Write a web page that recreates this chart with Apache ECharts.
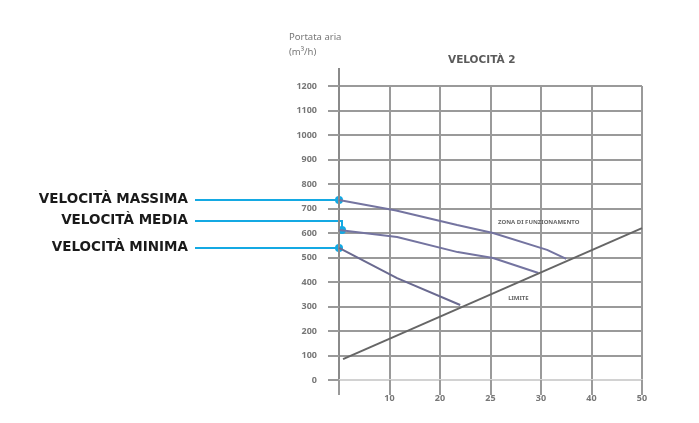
<!DOCTYPE html>
<html>
<head>
<meta charset="utf-8">
<script src="https://cdn.jsdelivr.net/npm/echarts@6/dist/echarts.min.js"></script>
<style>
  html, body { margin: 0; padding: 0; background: #fff; }
  #chart { width: 699px; height: 423px; }
</style>
</head>
<body>
<div id="chart"></div>
<script>
// asse x (velocità aria) e valori
const xCategories = ['', '10', '20', '25', '30', '40', '50'];
const yTicks = [0, 100, 200, 300, 400, 500, 600, 700, 800, 900, 1000, 1100, 1200];

// punti [posizione sull'asse x, portata m3/h]
const velMassima = [[0, 735], [1.13, 692], [2.34, 633], [3.05, 600], [4.12, 531], [4.5, 494]];
const velMedia = [[0, 612], [1.15, 584], [2.35, 522], [3.05, 498], [3.95, 437]];
const velMinima = [[0, 539], [1.15, 416], [2.4, 306]];
const limite = [[0.08, 85], [6, 620]];

const calloutLabels = ['VELOCITÀ MASSIMA', 'VELOCITÀ MEDIA', 'VELOCITÀ MINIMA'];

const gridGray = '#9a9a9a';
const lineCol = '#7474a0';
const cyan = '#14a9e3';

let chart = echarts.init(document.getElementById('chart'));

chart.setOption({
  animation: false,
  backgroundColor: '#fff',
  grid: { left: 339, right: 57, top: 86, bottom: 43 },
  xAxis: [
    {
      type: 'category',
      data: xCategories,
      boundaryGap: false,
      axisLine: { show: true, lineStyle: { color: '#d2d2d2', width: 2 } },
      axisTick: { show: true, length: 15, lineStyle: { color: gridGray, width: 2 } },
      axisLabel: { fontSize: 9, color: '#777', margin: 14, fontWeight: 'bold', fontFamily: 'Noto Sans' },
      splitLine: { show: true, lineStyle: { color: gridGray, width: 2 } }
    },
    { type: 'value', min: 0, max: 6, show: false }
  ],
  yAxis: {
    type: 'value',
    min: 0,
    max: 1200,
    interval: 100,
    axisLine: { show: true, onZero: false, lineStyle: { color: '#8a8a8a', width: 2 } },
    axisTick: { show: true, length: 11, lineStyle: { color: gridGray, width: 2 } },
    axisLabel: { fontSize: 9, color: '#777', margin: 22, fontWeight: 'bold', fontFamily: 'Noto Sans',
      formatter: v => yTicks.indexOf(v) >= 0 ? String(v) : '' },
    splitLine: { show: true, lineStyle: { color: gridGray, width: 2 } }
  },
  title: {
    text: 'VELOCITÀ 2',
    left: 443, top: 50,
    textStyle: { fontSize: 10.5, fontWeight: 'bold', color: '#5a5a5a', fontFamily: 'DejaVu Sans' }
  },
  series: [
    { name: 'massima', type: 'line', xAxisIndex: 1, data: velMassima, symbol: 'none',
      lineStyle: { color: lineCol, width: 2 } },
    { name: 'media', type: 'line', xAxisIndex: 1, data: velMedia, symbol: 'none',
      lineStyle: { color: lineCol, width: 2 } },
    { name: 'minima', type: 'line', xAxisIndex: 1, data: velMinima, symbol: 'none',
      lineStyle: { color: '#6a6a90', width: 2 } },
    { name: 'limite', type: 'line', xAxisIndex: 1, data: limite, symbol: 'none',
      lineStyle: { color: '#666', width: 2 } }
  ]
});

// richiami a sinistra, agganciati al primo punto di ogni curva
const firsts = [velMassima[0], velMedia[0], velMinima[0]];
const pts = firsts.map(p => chart.convertToPixel({ xAxisIndex: 1, yAxisIndex: 0 }, p));
const textY = [pts[0][1], (pts[0][1] + pts[1][1]) / 2 + 6, pts[2][1]];
let graphics = [];
calloutLabels.forEach((t, i) => {
  graphics.push({
    type: 'text', x: 188, y: textY[i],
    style: { text: t, fill: '#1a1a1a', font: 'bold 13.5px "DejaVu Sans"', align: 'right', verticalAlign: 'middle' }
  });
  let px = pts[i][0] + (i === 1 ? 3 : 0);
  let shape = i === 1
    ? { points: [[195, textY[i]], [px, textY[i]], [px, pts[i][1]]] }
    : { points: [[195, textY[i]], [px, pts[i][1]]] };
  graphics.push({ type: 'polyline', shape: shape, style: { stroke: cyan, lineWidth: 2, fill: null } });
  graphics.push({ type: 'circle', shape: { cx: px, cy: pts[i][1], r: 4 }, style: { fill: cyan } });
});

// prolungamento dell'asse y verso il nome dell'asse
const topAxis = chart.convertToPixel({ xAxisIndex: 1, yAxisIndex: 0 }, [0, 1200]);
graphics.push({ type: 'line', shape: { x1: topAxis[0], y1: topAxis[1], x2: topAxis[0], y2: 68 },
  style: { stroke: '#8a8a8a', lineWidth: 2 } });

// etichette vicino alle curve
const zonaPos = chart.convertToPixel({ xAxisIndex: 1, yAxisIndex: 0 }, [3.15, 645]);
const limitePos = chart.convertToPixel({ xAxisIndex: 1, yAxisIndex: 0 }, [3.35, 335]);
graphics.push({ type: 'text', x: zonaPos[0], y: zonaPos[1],
  style: { text: 'ZONA DI FUNZIONAMENTO', fill: '#666', font: 'bold 6px "Noto Sans"', verticalAlign: 'middle' } });
graphics.push({ type: 'text', x: limitePos[0], y: limitePos[1],
  style: { text: 'LIMITE', fill: '#666', font: 'bold 6px "Noto Sans"', verticalAlign: 'middle' } });
// nome asse y
graphics.push({ type: 'text', x: 289, y: 37,
  style: { text: 'Portata aria', fill: '#777', font: '9.5px "Noto Sans"', verticalAlign: 'middle' } });
graphics.push({ type: 'text', x: 289, y: 52,
  style: { text: '(m³/h)', fill: '#777', font: '9.5px "Noto Sans"', verticalAlign: 'middle' } });

chart.setOption({ graphic: graphics });
</script>
</body>
</html>
